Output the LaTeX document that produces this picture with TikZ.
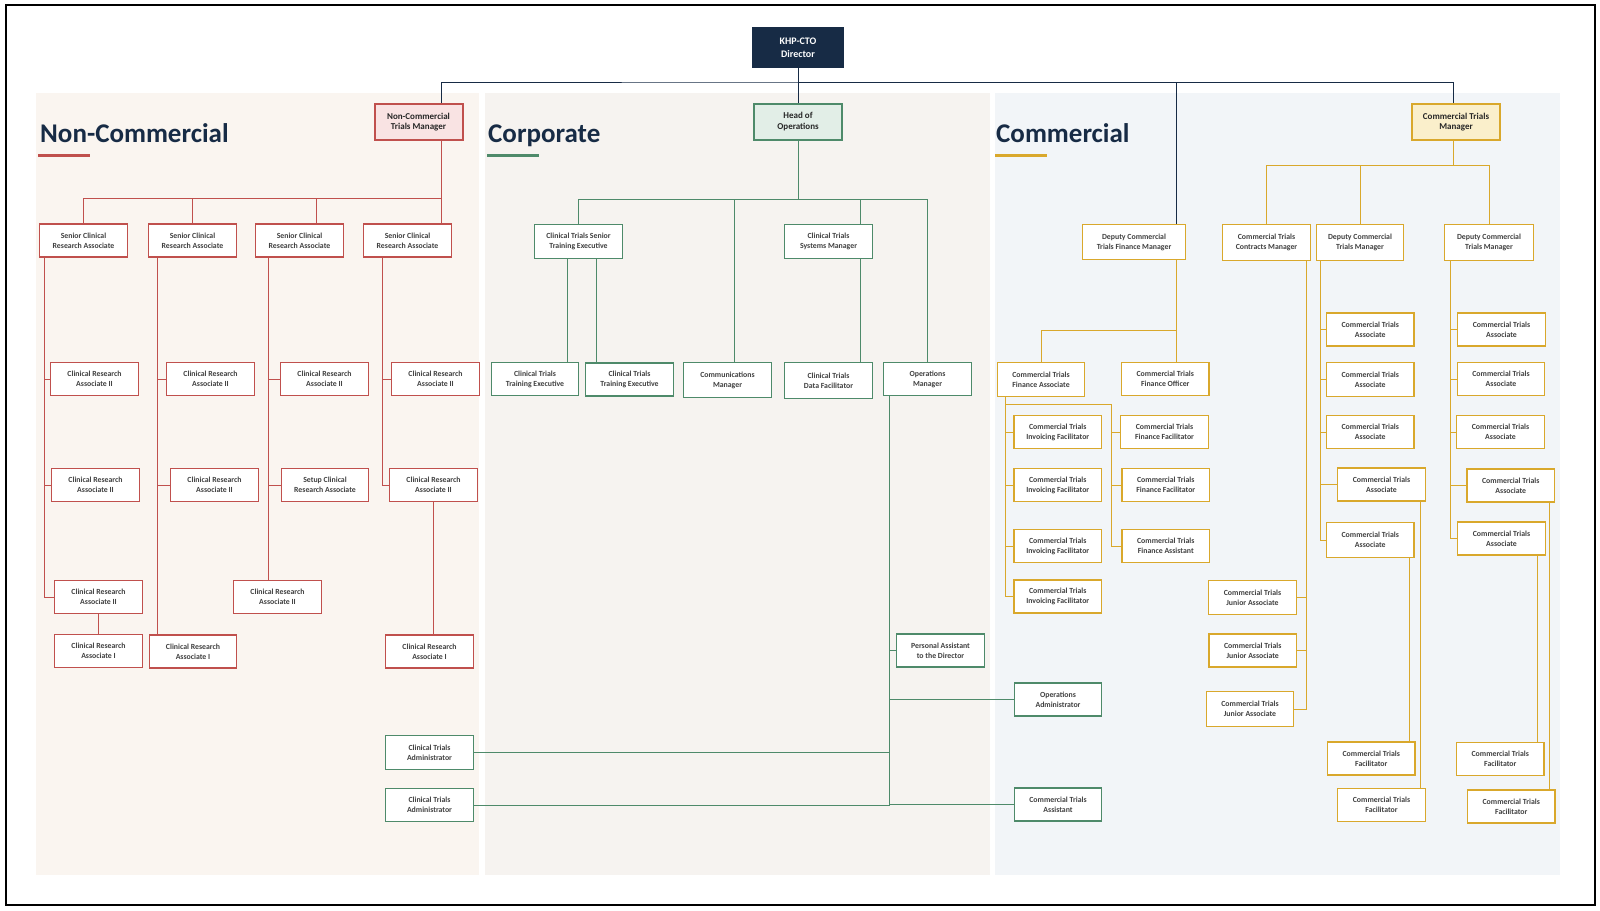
\documentclass[tikz,border=0pt]{standalone}
\usepackage{fontspec}
\setmainfont{Carlito}
\usetikzlibrary{calc, positioning}

\definecolor{navy}{HTML}{172B45}
\definecolor{ncred}{HTML}{C0504D}
\definecolor{ncpanel}{HTML}{FAF5F0}
\definecolor{ncpink}{HTML}{F9E3E3}
\definecolor{cpgreen}{HTML}{4E8A6A}
\definecolor{cppanel}{HTML}{F6F3F0}
\definecolor{cpmint}{HTML}{E2EEE7}
\definecolor{cmgold}{HTML}{D9A82C}
\definecolor{cmpanel}{HTML}{F2F5F8}
\definecolor{cmcream}{HTML}{FAEFCB}
\definecolor{boxtext}{HTML}{404040}

\begin{document}
\begin{tikzpicture}[x=1pt, y=-1pt,
  box/.style={draw, fill=white, line width=1.1pt, minimum width=87.5pt, minimum height=33pt, inner sep=1pt, align=center, text=boxtext, font=\fontsize{7.8}{10}\selectfont\bfseries},
  rbox/.style={box, draw=ncred},
  gbox/.style={box, draw=cpgreen},
  ybox/.style={box, draw=cmgold},
  headbox/.style={box, line width=2pt, minimum width=88pt, minimum height=36pt, text=black!85, font=\fontsize{9}{10.5}\selectfont\bfseries},
  dirbox/.style={box, draw=navy, fill=navy, text=white, minimum width=90pt, minimum height=39pt, font=\fontsize{10}{13}\selectfont\bfseries},
  title/.style={anchor=base west, inner sep=0pt, text=navy, font=\fontsize{27}{30}\selectfont\bfseries},
  nline/.style={draw=navy, line width=0.9pt},
  rline/.style={draw=ncred, line width=0.9pt},
  gline/.style={draw=cpgreen, line width=0.9pt},
  yline/.style={draw=cmgold, line width=0.9pt}]

\useasboundingbox (0,0) rectangle (1600,910);
\draw[line width=1.3pt] (6,5) rectangle (1595,905);

% panels
\fill[ncpanel] (36,93) rectangle (479,875);
\fill[cppanel] (485,93) rectangle (990,875);
\fill[cmpanel] (995,93) rectangle (1560,875);

% titles
\node[title] (nctitle) at (40,142) {Non-Commercial};
\node[title] (cptitle) at (488,142) {Corporate};
\node[title] (cmtitle) at (996,142) {Commercial};
\fill[ncred] (38,153.5) rectangle (90,157);
\fill[cpgreen] (487,153.5) rectangle (539,157);
\fill[cmgold] (995,153.5) rectangle (1047,157);

% top
\node[dirbox] (dir) at (798,47.5) {KHP-CTO\\Director};
\node[headbox, draw=ncred, fill=ncpink] (nctm) at (418.5,122) {Non-Commercial\\Trials Manager};
\node[headbox, draw=cpgreen, fill=cpmint] (hoo) at (798,121.5) {Head of\\Operations};
\node[headbox, draw=cmgold, fill=cmcream] (ctm) at (1456,122) {Commercial Trials\\Manager};

% non-commercial
\node[rbox] (scra1) at (83.5,240.5) {Senior Clinical\\Research Associate};
\node[rbox] (scra2) at (192.5,240.5) {Senior Clinical\\Research Associate};
\node[rbox] (scra3) at (299.5,240.5) {Senior Clinical\\Research Associate};
\node[rbox] (scra4) at (407.5,240.5) {Senior Clinical\\Research Associate};

\node[rbox] (a1) at (94.5,379) {Clinical Research\\Associate II};
\node[rbox] (a2) at (95.5,485) {Clinical Research\\Associate II};
\node[rbox] (a3) at (98.5,597) {Clinical Research\\Associate II};
\node[rbox] (a4) at (98.5,651) {Clinical Research\\Associate I};

\node[rbox] (b1) at (210.5,379) {Clinical Research\\Associate II};
\node[rbox] (b2) at (214.5,485) {Clinical Research\\Associate II};
\node[rbox] (b3) at (193,651.5) {Clinical Research\\Associate I};

\node[rbox] (c1) at (324.5,379) {Clinical Research\\Associate II};
\node[rbox] (c2) at (325,485) {Setup Clinical\\Research Associate};
\node[rbox] (c3) at (277.5,597) {Clinical Research\\Associate II};

\node[rbox] (d1) at (435.5,379) {Clinical Research\\Associate II};
\node[rbox] (d2) at (433.5,485) {Clinical Research\\Associate II};
\node[rbox] (d3) at (429.5,651.5) {Clinical Research\\Associate I};

% corporate
\node[gbox, minimum height=34pt] (ctste) at (578.5,241.5) {Clinical Trials Senior\\Training Executive};
\node[gbox, minimum height=34pt] (ctsm) at (828.5,241.5) {Clinical Trials\\Systems Manager};
\node[gbox] (te1) at (535,379) {Clinical Trials\\Training Executive};
\node[gbox] (te2) at (629.5,379.5) {Clinical Trials\\Training Executive};
\node[gbox, minimum height=35pt] (comm) at (727.5,380) {Communications\\Manager};
\node[gbox, minimum height=36pt] (ctdf) at (828.5,380.5) {Clinical Trials\\Data Facilitator};
\node[gbox] (opsm) at (927.5,379) {Operations\\Manager};
\node[gbox] (pa) at (940.5,650.5) {Personal Assistant\\to the Director};
\node[gbox] (opadm) at (1058,699.5) {Operations\\Administrator};
\node[gbox, minimum height=34pt] (adm1) at (429.5,752.5) {Clinical Trials\\Administrator};
\node[gbox] (adm2) at (429.5,805) {Clinical Trials\\Administrator};
\node[gbox] (casst) at (1058,804.5) {Commercial Trials\\Assistant};

% commercial
\node[ybox, minimum width=103pt, minimum height=35pt] (dctfm) at (1134,242) {Deputy Commercial\\Trials Finance Manager};
\node[ybox, minimum height=36pt] (ctcm) at (1266.5,242.5) {Commercial Trials\\Contracts Manager};
\node[ybox, minimum height=36pt] (dctm1) at (1360,242.5) {Deputy Commercial\\Trials Manager};
\node[ybox, minimum width=89pt, minimum height=36pt] (dctm2) at (1489,242.5) {Deputy Commercial\\Trials Manager};

\node[ybox, minimum height=34pt] (cfa) at (1041,379.5) {Commercial Trials\\Finance Associate};
\node[ybox] (cfo) at (1165.25,379) {Commercial Trials\\Finance Officer};
\node[ybox] (if1) at (1057.75,432) {Commercial Trials\\Invoicing Facilitator};
\node[ybox] (if2) at (1057.75,485) {Commercial Trials\\Invoicing Facilitator};
\node[ybox] (if3) at (1057.75,546) {Commercial Trials\\Invoicing Facilitator};
\node[ybox] (if4) at (1057.75,596.5) {Commercial Trials\\Invoicing Facilitator};
\node[ybox] (cff1) at (1164.5,432) {Commercial Trials\\Finance Facilitator};
\node[ybox] (cff2) at (1165.75,485) {Commercial Trials\\Finance Facilitator};
\node[ybox] (cfasst) at (1165.75,546) {Commercial Trials\\Finance Assistant};

\node[ybox, minimum height=34pt] (ja1) at (1252.5,597.5) {Commercial Trials\\Junior Associate};
\node[ybox] (ja2) at (1252.75,650.5) {Commercial Trials\\Junior Associate};
\node[ybox, minimum height=35pt] (ja3) at (1250,709) {Commercial Trials\\Junior Associate};

\node[ybox] (ca1) at (1370.25,329.5) {Commercial Trials\\Associate};
\node[ybox, minimum height=34pt] (ca2) at (1370.25,379.5) {Commercial Trials\\Associate};
\node[ybox] (ca3) at (1370.25,432) {Commercial Trials\\Associate};
\node[ybox] (ca4) at (1381.5,484.5) {Commercial Trials\\Associate};
\node[ybox, minimum height=35pt] (ca5) at (1370.25,540) {Commercial Trials\\Associate};
\node[ybox] (fa1) at (1371.25,758.5) {Commercial Trials\\Facilitator};
\node[ybox] (fa2) at (1381.5,805) {Commercial Trials\\Facilitator};

\node[ybox] (cb1) at (1501.5,329.5) {Commercial Trials\\Associate};
\node[ybox] (cb2) at (1501,379) {Commercial Trials\\Associate};
\node[ybox] (cb3) at (1500.5,432) {Commercial Trials\\Associate};
\node[ybox] (cb4) at (1510.75,485.5) {Commercial Trials\\Associate};
\node[ybox] (cb5) at (1501.5,538.5) {Commercial Trials\\Associate};
\node[ybox] (fb1) at (1500.25,759) {Commercial Trials\\Facilitator};
\node[ybox] (fb2) at (1511.25,806.5) {Commercial Trials\\Facilitator};

% junctions and rails
\coordinate (dj) at (798,82);
\coordinate (nj) at (441,198);
\coordinate (cj) at (798,199);
\coordinate (mj) at (1453,165);
\coordinate (fj) at (1176.5,330);
\coordinate (ivj) at (1005,404);
\coordinate (ffj) at (1111,404);
\coordinate (ra) at (44.5,0);
\coordinate (rb) at (157,0);
\coordinate (rc) at (268,0);
\coordinate (rd) at (382,0);
\coordinate (rs3) at (316,0);
\coordinate (rt1) at (567,0);
\coordinate (rt2) at (596,0);
\coordinate (rcm) at (734,0);
\coordinate (rsm) at (860,0);
\coordinate (ro) at (889,0);
\coordinate (rj) at (1306,0);
\coordinate (ru) at (1320,0);
\coordinate (rv) at (1450.5,0);
\coordinate (rf1) at (1409,0);
\coordinate (rf2) at (1420,0);
\coordinate (rf3) at (1537.5,0);
\coordinate (rf4) at (1549,0);

% director lines
\draw[nline] (dir.south) -- (hoo.north);
\draw[nline] (nctm.north -| nj) |- (dj) -| (ctm.north -| mj);
\draw[nline] (dj) -| (dctfm.north -| fj);

% non-commercial lines
\draw[rline] (nctm.south -| nj) -- (scra4.north -| nj);
\draw[rline] (nj) -| (scra1.north);
\draw[rline] (nj) -| (scra2.north);
\draw[rline] (nj) -| (scra3.north -| rs3);
\draw[rline] (scra1.south -| ra) |- (a1.west);
\draw[rline] (scra1.south -| ra) |- (a2.west);
\draw[rline] (scra1.south -| ra) |- (a3.west);
\draw[rline] (a3) -- (a4);
\draw[rline] (scra2.south -| rb) |- (b1.west);
\draw[rline] (scra2.south -| rb) |- (b2.west);
\draw[rline] (scra2.south -| rb) -- (b3.north -| rb);
\draw[rline] (scra3.south -| rc) |- (c1.west);
\draw[rline] (scra3.south -| rc) |- (c2.west);
\draw[rline] (scra3.south -| rc) -- (c3.north -| rc);
\draw[rline] (scra4.south -| rd) |- (d1.west);
\draw[rline] (scra4.south -| rd) |- (d2.west);
\draw[rline] (d2.south) -- (d2.south |- d3.north);

% corporate lines
\draw[gline] (hoo.south) -- (cj);
\draw[gline] (cj) -| (ctste.north);
\draw[gline] (cj) -| (comm.north -| rcm);
\draw[gline] (cj) -| (ctsm.north -| rsm);
\draw[gline] (cj) -| (opsm.north);
\draw[gline] (ctste.south -| rt1) -- (te1.north -| rt1);
\draw[gline] (ctste.south -| rt2) -- (te2.north -| rt2);
\draw[gline] (ctsm.south -| rsm) -- (ctdf.north -| rsm);
\draw[gline] (opsm.south -| ro) |- (pa.west);
\draw[gline] (opsm.south -| ro) |- (opadm.west);
\draw[gline] (opsm.south -| ro) |- (adm1.east);
\draw[gline] (opsm.south -| ro) |- (adm2.east);
\draw[gline] (opsm.south -| ro) |- (casst.west);

% commercial lines
\draw[yline] (ctm.south -| mj) -- (mj);
\draw[yline] (mj) -| (ctcm.north);
\draw[yline] (mj) -| (dctm1.north);
\draw[yline] (mj) -| (dctm2.north);
\draw[yline] (dctfm.south -| fj) -- (cfo.north -| fj);
\draw[yline] (fj) -| (cfa.north);
\draw[yline] (cfa.south -| ivj) |- (if1.west);
\draw[yline] (cfa.south -| ivj) |- (if2.west);
\draw[yline] (cfa.south -| ivj) |- (if3.west);
\draw[yline] (cfa.south -| ivj) |- (if4.west);
\draw[yline] (ivj) -- (ffj);
\draw[yline] (ffj) |- (cff1.west);
\draw[yline] (ffj) |- (cff2.west);
\draw[yline] (ffj) |- (cfasst.west);
\draw[yline] (ctcm.south -| rj) |- (ja1.east);
\draw[yline] (ctcm.south -| rj) |- (ja2.east);
\draw[yline] (ctcm.south -| rj) |- (ja3.east);
\draw[yline] (dctm1.south -| ru) |- (ca1.west);
\draw[yline] (dctm1.south -| ru) |- (ca2.west);
\draw[yline] (dctm1.south -| ru) |- (ca3.west);
\draw[yline] (dctm1.south -| ru) |- (ca4.west);
\draw[yline] (dctm1.south -| ru) |- (ca5.west);
\draw[yline] (ca5.south -| rf1) -- (fa1.north -| rf1);
\draw[yline] (ca4.south -| rf2) -- (fa2.north -| rf2);
\draw[yline] (dctm2.south -| rv) |- (cb1.west);
\draw[yline] (dctm2.south -| rv) |- (cb2.west);
\draw[yline] (dctm2.south -| rv) |- (cb3.west);
\draw[yline] (dctm2.south -| rv) |- (cb4.west);
\draw[yline] (dctm2.south -| rv) |- (cb5.west);
\draw[yline] (cb5.south -| rf3) -- (fb1.north -| rf3);
\draw[yline] (cb4.south -| rf4) -- (fb2.north -| rf4);
\end{tikzpicture}
\end{document}
